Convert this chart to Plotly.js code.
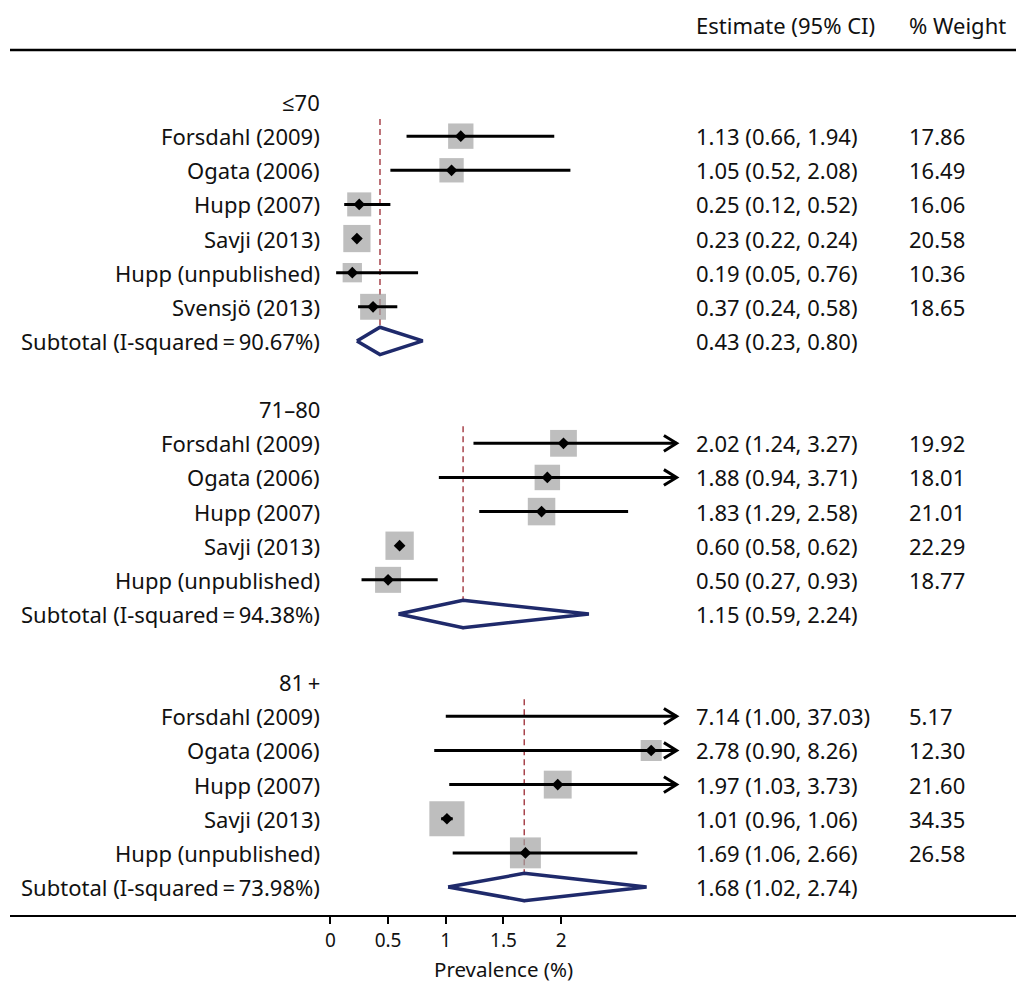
<!DOCTYPE html>
<html>
<head>
<meta charset="utf-8">
<script src="https://cdn.plot.ly/plotly-3.0.1.min.js"></script>
<style>
  html, body { margin: 0; padding: 0; background: #fff; }
  #chart { width: 1016px; height: 985px; }
</style>
</head>
<body>
<div id="chart"></div>
<script>
// ---------- data ----------
const groupLabels = ['\u226470', '71\u201380', '81\u2009+'];

const g1Names = ['Forsdahl (2009)', 'Ogata (2006)', 'Hupp (2007)', 'Savji (2013)', 'Hupp (unpublished)', 'Svensjö (2013)'];
const g1Est = [1.13, 1.05, 0.25, 0.23, 0.19, 0.37];
const g1Lo  = [0.66, 0.52, 0.12, 0.22, 0.05, 0.24];
const g1Hi  = [1.94, 2.08, 0.52, 0.24, 0.76, 0.58];
const g1Wt  = [17.86, 16.49, 16.06, 20.58, 10.36, 18.65];

const g2Names = ['Forsdahl (2009)', 'Ogata (2006)', 'Hupp (2007)', 'Savji (2013)', 'Hupp (unpublished)'];
const g2Est = [2.02, 1.88, 1.83, 0.60, 0.50];
const g2Lo  = [1.24, 0.94, 1.29, 0.58, 0.27];
const g2Hi  = [3.27, 3.71, 2.58, 0.62, 0.93];
const g2Wt  = [19.92, 18.01, 21.01, 22.29, 18.77];

const g3Names = ['Forsdahl (2009)', 'Ogata (2006)', 'Hupp (2007)', 'Savji (2013)', 'Hupp (unpublished)'];
const g3Est = [7.14, 2.78, 1.97, 1.01, 1.69];
const g3Lo  = [1.00, 0.90, 1.03, 0.96, 1.06];
const g3Hi  = [37.03, 8.26, 3.73, 1.06, 2.66];
const g3Wt  = [5.17, 12.30, 21.60, 34.35, 26.58];

const subI2  = ['90.67%', '94.38%', '73.98%'];
const subEst = [0.43, 1.15, 1.68];
const subLo  = [0.23, 0.59, 1.02];
const subHi  = [0.80, 2.24, 2.74];

const tickVals = [0, 0.5, 1, 1.5, 2];
const tickText = ['0', '0.5', '1', '1.5', '2'];
const xAxisTitle = 'Prevalence (%)';
const headEst = 'Estimate (95% CI)';
const headWt = '% Weight';

// ---------- layout constants ----------
const XMAX = 3;              // truncation point of the plotted scale
const FONT = 'Noto Sans, Open Sans, sans-serif';
const FS = 22;
const labelX = -0.07;        // right edge of label column (data units)
const estX = 3.15;           // left edge of estimate column
const wtX = 5.0;             // left edge of weight column

const groups = [
  {names: g1Names, est: g1Est, lo: g1Lo, hi: g1Hi, wt: g1Wt},
  {names: g2Names, est: g2Est, lo: g2Lo, hi: g2Hi, wt: g2Wt},
  {names: g3Names, est: g3Est, lo: g3Lo, hi: g3Hi, wt: g3Wt}
];

const f2 = v => v.toFixed(2);
const ann = [];
const sq = {x: [], y: [], s: []};
const ctr = {x: [], y: []};
const ci = {x: [], y: []};
const arr = {x: [], y: []};
const dash = {x: [], y: []};
const dia = [];

let row = 0;
groups.forEach((g, gi) => {
  ann.push({x: labelX, y: row, text: groupLabels[gi], xanchor: 'right'});
  const first = row + 1;
  g.names.forEach((n, i) => {
    row++;
    ann.push({x: labelX, y: row, text: n, xanchor: 'right'});
    ann.push({x: estX, y: row, text: `${f2(g.est[i])} (${f2(g.lo[i])}, ${f2(g.hi[i])})`, xanchor: 'left'});
    ann.push({x: wtX, y: row, text: f2(g.wt[i]), xanchor: 'left'});
    if (g.est[i] <= XMAX) {
      sq.x.push(g.est[i]); sq.y.push(row); sq.s.push(6.0 * Math.sqrt(g.wt[i]));
      ctr.x.push(g.est[i]); ctr.y.push(row);
    }
    const hiC = Math.min(g.hi[i], XMAX);
    ci.x.push(g.lo[i], hiC, null); ci.y.push(row, row, null);
    if (g.hi[i] > XMAX) {
      arr.x.push(XMAX - 0.11, XMAX, XMAX - 0.11, null);
      arr.y.push(row - 0.23, row, row + 0.23, null);
    }
  });
  row++;
  ann.push({x: labelX, y: row, text: `Subtotal (I-squared\u2009=\u2009${subI2[gi]})`, xanchor: 'right'});
  ann.push({x: estX, y: row, text: `${f2(subEst[gi])} (${f2(subLo[gi])}, ${f2(subHi[gi])})`, xanchor: 'left'});
  const h = 0.4;
  dia.push({
    x: [subLo[gi], subEst[gi], subHi[gi], subEst[gi], subLo[gi]],
    y: [row, row - h, row, row + h, row]
  });
  dash.x.push(subEst[gi], subEst[gi], null);
  dash.y.push(first - 0.5, row + 0.45, null);
  row += 2;
});

const traces = [];
traces.push({x: dash.x, y: dash.y, mode: 'lines', line: {color: '#a8444c', width: 1.5, dash: '6px,4px'}, hoverinfo: 'skip'});
traces.push({x: sq.x, y: sq.y, mode: 'markers', marker: {symbol: 'square', size: sq.s, color: '#a3a3a3', line: {width: 0}}, hoverinfo: 'skip'});
traces.push({x: ci.x, y: ci.y, mode: 'lines', line: {color: '#000', width: 3}, hoverinfo: 'skip'});
traces.push({x: arr.x, y: arr.y, mode: 'lines', line: {color: '#000', width: 3}, hoverinfo: 'skip'});
traces.push({x: ctr.x, y: ctr.y, mode: 'markers', marker: {symbol: 'diamond', size: 9, color: '#000'}, hoverinfo: 'skip'});
dia.forEach(d => traces.push({x: d.x, y: d.y, mode: 'lines', fill: 'toself', fillcolor: '#fff', line: {color: '#1f2a6b', width: 3.5}, hoverinfo: 'skip'}));

const annotations = ann.map(a => Object.assign({
  xref: 'x', yref: 'y', showarrow: false, yanchor: 'middle',
  font: {family: FONT, size: FS, color: '#111'}
}, a));

annotations.push({xref: 'x', yref: 'paper', x: estX, y: 1.029, text: headEst, xanchor: 'left', yanchor: 'middle', showarrow: false, font: {family: FONT, size: FS, color: '#111'}});
annotations.push({xref: 'x', yref: 'paper', x: wtX, y: 1.029, text: headWt, xanchor: 'left', yanchor: 'middle', showarrow: false, font: {family: FONT, size: FS, color: '#111'}});
annotations.push({xref: 'x', yref: 'paper', x: 1.5, y: -0.0625, text: xAxisTitle, xanchor: 'center', yanchor: 'middle', showarrow: false, font: {family: FONT, size: 20.5, color: '#111'}});

const layout = {
  width: 1016, height: 985,
  margin: {l: 10, r: 0, t: 50, b: 70},
  paper_bgcolor: '#fff', plot_bgcolor: '#fff',
  showlegend: false,
  xaxis: {
    range: [-2.776, 5.941], showgrid: false, zeroline: false,
    showline: true, linecolor: '#000', linewidth: 2,
    tickmode: 'array', tickvals: tickVals, ticktext: tickText,
    ticks: 'outside', ticklen: 7, tickwidth: 2, tickcolor: '#000',
    tickfont: {family: FONT, size: 19, color: '#111'},
    fixedrange: true
  },
  yaxis: {
    range: [23.82, -1.524], showgrid: false, zeroline: false,
    showline: false, showticklabels: false, ticks: '', fixedrange: true
  },
  shapes: [{type: 'line', xref: 'paper', yref: 'paper', x0: 0, x1: 1, y0: 1, y1: 1, line: {color: '#000', width: 2.5}}],
  annotations: annotations
};

Plotly.newPlot('chart', traces, layout, {displayModeBar: false, staticPlot: true});
</script>
</body>
</html>
